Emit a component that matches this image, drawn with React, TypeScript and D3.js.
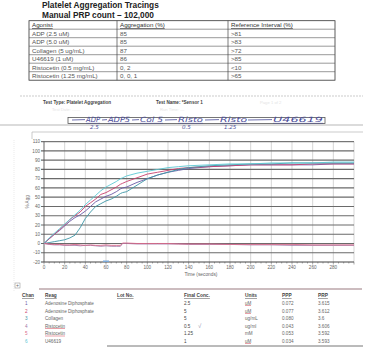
import React from "react";
import * as d3 from "d3";

const agonists = ["ADP (2.5 uM)", "ADP (5.0 uM)", "Collagen (5 ug/mL)", "U46619 (1 uM)", "Ristocetin (0.5 mg/mL)", "Ristocetin (1.25 mg/mL)"];
const aggregation = ["85", "85", "87", "86", "0, 2", "0, 0, 1"];
const refInterval = [">81", ">83", ">72", ">85", "<10", ">65"];

const times = [0,5,10,15,20,25,30,35,40,45,50,55,60,65,70,74,76,80,90,100,110,120,130,140,160,180,200,220,240,260,280,300];
const ch1 = [0,5,10,14,19,24,28,31,35,40,45,48,51,53,56,59,60,61,66,70,74,77,79,81,83,84,85,85,85,85,86,86];
const ch2 = [0,5,10,15,20,26,30,34,40,44,48,53,55,58,61,64,65,67,71,75,77,79,81,82,83,84,85,85,85,86,86,86];
const ch3 = [0,1,2,3,4,6,9,17,27,34,40,43,46,48,51,54,55,56,63,70,74,77,80,82,84,85,86,86,87,87,87,87];
const ch4 = [0,-1,-1.5,-1.5,-2,-2,-2,-2.5,-2,-2,-2.5,-3,-2.5,-3,-3,-3,0,0,-0.5,-0.5,-0.5,-0.5,-0.5,-1,-1,-1,-1.5,-1.5,-2,-2,-2,-2];
const ch5 = [0,-0.5,-1,-1,-1.5,-1.5,-1,-1.5,-2,-1.5,-2,-2,-1.5,-2,-2,-2,0.5,0.5,0,0,0,0,-0.5,-0.5,-0.5,-1,-1,-1,-1,-1.5,-1.5,-1.5];
const ch6 = [0,6,11,16,21,26,31,36,42,47,52,57,61,64,67,70,71,73,76,78,80,82,83,84,85,86,86,87,87,87,88,88];
const seriesValues = [ch1, ch2, ch3, ch4, ch5, ch6];
const seriesColors = ["#6a5aa6", "#c8416e", "#3d96a6", "#a277a6", "#d86a8a", "#5cc8d4"];

const yTicks = [110,100,90,80,70,60,50,40,30,20,10,0,-10,-20];
const xTicks = [0,20,40,60,80,100,120,140,160,180,200,220,240,260,280];

const legendItems = ["ADP", "ADP5", "Col 5", "Risto", "Risto", "U46619"];
const legendSub = ["2.5", "", "", "0.5", "1.25", ""];

const chan = ["1","2","3","4","5","6"];
const reag = ["Adenosine Diphosphate","Adenosine Diphosphate","Collagen","Ristocetin","Ristocetin","U46619"];
const finalConc = ["2.5","5","5","0.5","1.25","1"];
const units = ["uM","uM","ug/mL","ug/ml","mM","uM"];
const ppp = ["0.072","0.077","0.080","0.043","0.053","0.034"];
const prp = ["3.615","3.612","3.6","3.606","3.592","3.593"];

export default function App() {
  const x = d3.scaleLinear().domain([0, 300]).range([44, 354]);
  const y = d3.scaleLinear().domain([-20, 110]).range([262, 141.7]);
  const line = d3.line<number>().x((_, i) => x(times[i])).y((v) => y(v)).curve(d3.curveLinear);
  const minor = d3.range(0, 301, 5);

  const tTop = 20.7, rowH = 8.5;
  const colX = [29, 117, 228, 335];
  const font = "Liberation Sans, Arial, sans-serif";

  const dashX = [72, 102, 132, 165, 205, 248];
  const legX = [86, 108, 140, 178, 220, 273];
  const legW = [14, 22, 23, 25, 27, 50];
  const ink = "#4a4c9a";

  const rowY = [303, 311, 318.5, 326, 333.5, 341];

  return (
    <div style={{ position: "absolute", left: 0, top: 0 }}>
      <svg width={375} height={357} style={{ display: "block", background: "#fff" }} fontFamily={font}>
        <text x={42} y={8} fontSize={8.3} fontWeight="bold" fill="#222">Platelet Aggregation Tracings</text>
        <text x={42} y={18} fontSize={8.3} fontWeight="bold" fill="#222">Manual PRP count – 102,000</text>
        {/* top table */}
        <rect x={colX[0]} y={tTop} width={colX[3] - colX[0]} height={rowH * 7} fill="none" stroke="#333" strokeWidth={0.8} />
        {d3.range(1, 7).map((i) => (
          <line key={i} x1={colX[0]} x2={colX[3]} y1={tTop + rowH * i} y2={tTop + rowH * i} stroke="#555" strokeWidth={0.6} />
        ))}
        {[colX[1], colX[2]].map((cx) => (
          <line key={cx} x1={cx} x2={cx} y1={tTop} y2={tTop + rowH * 7} stroke="#444" strokeWidth={0.7} />
        ))}
        {["Agonist", "Aggregation (%)", "Reference Interval (%)"].map((h, i) => (
          <text key={h} x={colX[i] + 3} y={tTop + 6.5} fontSize={6.2} fill="#333" textDecoration="underline">{h}</text>
        ))}
        {agonists.map((a, i) => (
          <g key={i} fontSize={6.2} fill="#555">
            <text x={colX[0] + 3} y={tTop + rowH * (i + 1) + 6.5}>{a}</text>
            <text x={colX[1] + 3} y={tTop + rowH * (i + 1) + 6.5}>{aggregation[i]}</text>
            <text x={colX[2] + 3} y={tTop + rowH * (i + 1) + 6.5}>{refInterval[i]}</text>
          </g>
        ))}

        {/* test header */}
        <line x1={20} x2={363} y1={96} y2={96} stroke="#aaa" strokeWidth={0.6} strokeDasharray="2,1" />
        <text x={43} y={104} fontSize={4.6} fill="#444" fontWeight="bold">Test Type:  Platelet Aggregation</text>
        <text x={156} y={104} fontSize={4.6} fill="#444" fontWeight="bold">Test Name:  *Sensor 1</text>
        <text x={52} y={111} fontSize={4.2} fill="#e4e4e4">Test Date: ------</text>
        <text x={160} y={111} fontSize={4.2} fill="#e4e4e4">Run Time: ---</text>
        <text x={260} y={104} fontSize={4.2} fill="#e4e4e4">Page 1 of 2</text>
        <line x1={0} x2={363} y1={125} y2={125} stroke="#999" strokeWidth={0.7} />
        <line x1={32} x2={363} y1={132} y2={132} stroke="#aaa" strokeWidth={0.6} />
        <line x1={32} x2={32} y1={132} y2={139} stroke="#aaa" strokeWidth={0.6} />
        <line x1={14} x2={14} y1={140} y2={292} stroke="#ddd" strokeWidth={0.6} strokeDasharray="1,1" />

        {/* handwritten legend */}
        <rect x={68} y={117.5} width={257} height={6} fill="none" stroke="#555" strokeWidth={0.8} />
        {legendItems.map((l, i) => (
          <g key={i}>
            <line x1={dashX[i]} x2={legX[i] - 1} y1={120} y2={119.6} stroke={ink} strokeWidth={0.8} />
            <text x={legX[i]} y={122.3} fontSize={7.2} fontStyle="italic" fontFamily="DejaVu Sans, sans-serif" fill={ink} textLength={legW[i]} lengthAdjust="spacingAndGlyphs">{l}</text>
            <line x1={legX[i]} x2={legX[i] + legW[i]} y1={123.3} y2={123.3} stroke={ink} strokeWidth={0.5} />
            {legendSub[i] && (
              <text x={legX[i] + 4} y={128.5} fontSize={5.5} fontStyle="italic" fontFamily="DejaVu Sans, sans-serif" fill={ink}>{legendSub[i]}</text>
            )}
          </g>
        ))}

        {/* grid */}
        {xTicks.slice(1).concat([300]).map((t) => (
          <line key={t} x1={x(t)} x2={x(t)} y1={y(110)} y2={y(-20)} stroke="#c4c4c4" strokeWidth={0.7} />
        ))}
        {yTicks.map((v) => (
          <g key={v}>
            <line x1={x(0) - 3} x2={x(300)} y1={y(v)} y2={y(v)} stroke={v === 110 || v === -20 ? "#444" : "#6a6a6a"} strokeWidth={v === 110 ? 0.9 : 1.2} />
            <text x={x(0) - 4} y={y(v) + 1.6} fontSize={4.6} fill="#666" textAnchor="end">{v}</text>
          </g>
        ))}
        <line x1={x(0)} x2={x(0)} y1={y(110)} y2={y(-20)} stroke="#555" strokeWidth={0.9} />
        {minor.map((t) => (
          <line key={t} x1={x(t)} x2={x(t)} y1={y(-20)} y2={y(-20) + (t % 20 === 0 ? 2.5 : 1.5)} stroke="#555" strokeWidth={0.5} />
        ))}
        {xTicks.map((t) => (
          <text key={t} x={x(t)} y={269} fontSize={4.6} fill="#666" textAnchor="middle">{t}</text>
        ))}
        <text x={201} y={276} fontSize={4.8} fill="#666" textAnchor="middle">Time (seconds)</text>
        <text transform={`translate(29,${y(45)}) rotate(-90)`} fontSize={4.6} fill="#777" textAnchor="middle">% Agg</text>
        <rect x={x(60) - 3} y={y(-20) - 1.5} width={6} height={1.5} fill="#7aa8d8" />

        {/* traces */}
        {seriesValues.map((s, i) => (
          <path key={i} d={line(s) || ""} fill="none" stroke={seriesColors[i]} strokeWidth={0.9} strokeLinejoin="round" />
        ))}

        {/* bottom table */}
        <rect x={15} y={283} width={5} height={5} fill="none" stroke="#888" strokeWidth={0.5} />
        <text x={17.5} y={287.2} fontSize={5} fill="#666" textAnchor="middle">+</text>
        <line x1={39} x2={362} y1={289} y2={289} stroke="#9a7a80" strokeWidth={1.2} />
        <g fontSize={4.8} fill="#444" fontWeight="bold" textDecoration="underline">
          <text x={22} y={297}>Chan</text>
          <text x={45} y={297}>Reag</text>
          <text x={117} y={297}>Lot No.</text>
          <text x={184} y={297}>Final Conc.</text>
          <text x={245} y={297}>Units</text>
          <text x={282} y={297}>PPP</text>
          <text x={318} y={297}>PRP</text>
        </g>
        {chan.map((c, i) => (
          <g key={i} fontSize={4.6} fill="#666">
            <text x={25} y={rowY[i] + 1.5} fill={seriesColors[i]}>{c}</text>
            <text x={45} y={rowY[i] + 1.5}>{reag[i]}</text>
            {reag[i] === "Ristocetin" && (
              <line x1={45} x2={65} y1={rowY[i] + 2.5} y2={rowY[i] + 2.5} stroke="#d04050" strokeWidth={0.5} />
            )}
            <text x={184} y={rowY[i] + 1.5} fill="#444">{finalConc[i]}</text>
            <text x={245} y={rowY[i] + 1.5}>{units[i]}</text>
            {units[i] === "uM" && (
              <line x1={245} x2={251} y1={rowY[i] + 2.5} y2={rowY[i] + 2.5} stroke="#d04050" strokeWidth={0.5} />
            )}
            <text x={282} y={rowY[i] + 1.5}>{ppp[i]}</text>
            <text x={318} y={rowY[i] + 1.5}>{prp[i]}</text>
          </g>
        ))}
        <text x={198} y={328} fontSize={6} fill="#8a8aa8" fontStyle="italic">√</text>
        <line x1={107} x2={363} y1={346} y2={346} stroke="#777" strokeWidth={1} />
      </svg>
    </div>
  );
}
